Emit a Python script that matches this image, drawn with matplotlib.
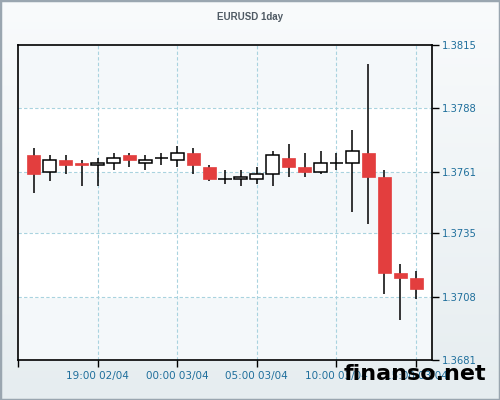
import numpy as np
import matplotlib
matplotlib.use("Agg")
from matplotlib import pyplot as plt
from matplotlib.patches import Rectangle

# hourly candles, 15:00 02/04 .. 15:00 03/04
opens = [1.3768, 1.3761, 1.3766, 1.3765, 1.3764, 1.3765, 1.3768, 1.3765, 1.3767, 1.3766,
         1.3769, 1.3763, 1.3758, 1.3758, 1.3758, 1.3760, 1.3767, 1.3763, 1.3761, 1.3765,
         1.3765, 1.3769, 1.3759, 1.3718, 1.3716]
highs = [1.3771, 1.3768, 1.3768, 1.3766, 1.3767, 1.3769, 1.3769, 1.3768, 1.3769, 1.3772,
         1.3771, 1.3764, 1.3762, 1.3762, 1.3763, 1.3770, 1.3773, 1.3769, 1.3770, 1.3769,
         1.3779, 1.3807, 1.3762, 1.3722, 1.3719]
lows = [1.3752, 1.3757, 1.3760, 1.3755, 1.3755, 1.3762, 1.3763, 1.3762, 1.3764, 1.3763,
        1.3760, 1.3757, 1.3756, 1.3755, 1.3756, 1.3755, 1.3759, 1.3759, 1.3760, 1.3762,
        1.3744, 1.3739, 1.3709, 1.3698, 1.3707]
closes = [1.3760, 1.3766, 1.3764, 1.3764, 1.3765, 1.3767, 1.3766, 1.3766, 1.3767, 1.3769,
          1.3764, 1.3758, 1.3758, 1.3759, 1.3760, 1.3768, 1.3763, 1.3761, 1.3765, 1.3765,
          1.3770, 1.3759, 1.3718, 1.3716, 1.3711]

x_tick_pos = [4, 9, 14, 19, 24]
x_tick_labels = ["19:00 02/04", "00:00 03/04", "05:00 03/04", "10:00 03/04", "15:00 03/04"]
y_ticks = [1.3681, 1.3708, 1.3735, 1.3761, 1.3788, 1.3815]

RED = "#e33e3e"
GRID = "#a9d3df"
LABEL = "#1f6f9c"

fig = plt.figure(figsize=(5, 4), dpi=100)

# background gradient
bg = fig.add_axes([0, 0, 1, 1], zorder=-10)
grad = np.linspace(0, 1, 256).reshape(-1, 1)
cmap = matplotlib.colors.LinearSegmentedColormap.from_list("bg", ["#f9fbfc", "#e6edf0"])
bg.imshow(grad, aspect="auto", cmap=cmap, extent=[0, 1, 0, 1], origin="upper")
bg.add_patch(Rectangle((0, 0), 1, 1, transform=bg.transAxes, fill=False,
                       edgecolor="#9aa6b0", linewidth=2.5))
bg.set_axis_off()

ax = fig.add_axes([18 / 500, 40 / 400, 414 / 500, 315 / 400])
ax.set_facecolor("#f4f8fa")

# alternating horizontal bands
for i in range(len(y_ticks) - 1):
    if i % 2 == 1:
        ax.axhspan(y_ticks[i], y_ticks[i + 1], color="white", zorder=0)

for y in y_ticks[1:-1]:
    ax.axhline(y, color=GRID, linestyle=(0, (3, 2)), linewidth=0.8, zorder=1)
for x in x_tick_pos:
    ax.axvline(x, color=GRID, linestyle=(0, (3, 2)), linewidth=0.8, zorder=1)

idx = np.arange(len(opens))
o = np.array(opens)
c = np.array(closes)

ax.vlines(idx, lows, highs, color="black", linewidth=1.1, zorder=2)

up = c > o
down = c < o
flat = c == o
w = 0.82
ax.bar(idx[up], (c - o)[up], bottom=o[up], width=w, color="white",
       edgecolor="black", linewidth=1.1, zorder=3)
ax.bar(idx[down], (o - c)[down], bottom=c[down], width=w, color=RED,
       edgecolor=RED, linewidth=0.5, zorder=3)
ax.hlines(o[flat], idx[flat] - w / 2, idx[flat] + w / 2, color="black",
          linewidth=1.1, zorder=3)

ax.set_xlim(-1, 25)
ax.set_ylim(y_ticks[0], y_ticks[-1])

ax.yaxis.tick_right()
ax.set_yticks(y_ticks)
ax.set_yticklabels([f"{v:.4f}" for v in y_ticks])
ax.set_xticks([-1] + x_tick_pos)
ax.set_xticklabels([""] + x_tick_labels)
ax.tick_params(axis="both", direction="out", length=5, width=1, colors="black",
               labelcolor=LABEL, labelsize=7.5)
ax.tick_params(axis="y", pad=2, labelsize=7.2)
ax.tick_params(axis="x", pad=3)

for s in ["top", "bottom", "left", "right"]:
    ax.spines[s].set_color("black")
    ax.spines[s].set_linewidth(1.2)

fig.text(0.5, 1 - 17 / 400, "EURUSD 1day", ha="center", va="center",
         fontsize=7, fontweight="bold", color="#4f5a64",
         family=["Liberation Sans", "DejaVu Sans"])

fig.text(415 / 500, 1 - 374 / 400, "finanso.net", ha="center", va="center",
         fontsize=16, fontweight="bold", color="black", zorder=20)

fig.savefig("out.png", dpi=100)
